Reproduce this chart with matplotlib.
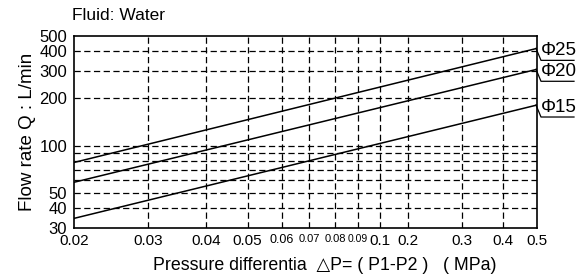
import numpy as np
import matplotlib
matplotlib.use("Agg")
import matplotlib.pyplot as plt
from matplotlib.transforms import IdentityTransform
from matplotlib.lines import Line2D

plt.rcParams["font.family"] = ["Liberation Sans", "DejaVu Sans", "Noto Sans CJK SC"]
plt.rcParams["lines.scale_dashes"] = False

# data
pressure = [0.02, 0.5]
flow_d25 = [78, 417]
flow_d20 = [58.3, 306.6]
flow_d15 = [34.3, 181.4]
series_names = ["Φ25", "Φ20", "Φ15"]

x_ticks = [0.02, 0.03, 0.04, 0.05, 0.06, 0.07, 0.08, 0.09, 0.1, 0.2, 0.3, 0.4, 0.5]
x_ticklabels = ["0.02", "0.03", "0.04", "0.05", "0.06", "0.07", "0.08", "0.09",
                "0.1", "0.2", "0.3", "0.4", "0.5"]
y_ticks = [30, 40, 50, 100, 200, 300, 400, 500]
y_grid = [40, 50, 60, 70, 80, 90, 100, 200, 300, 400]
x_grid = x_ticks[1:-1]

# the printed x axis is not a clean log scale, so map ticks to where they sit
x_tick_px = [74, 148, 206, 247.5, 282, 309, 335, 357.5, 380, 408.3, 462.3, 503.3, 537]
x_label_sizes = [11, 11, 11, 11, 9, 8, 8, 7.5, 11, 11, 11, 11, 11]
log_ticks = np.log10(x_ticks)


def fwd(x):
    x = np.clip(np.asarray(x, dtype=float), 1e-6, None)
    return np.interp(np.log10(x), log_ticks, x_tick_px)


def inv(p):
    return 10 ** np.interp(np.asarray(p, dtype=float), x_tick_px, log_ticks)


fig = plt.figure(figsize=(5.81, 2.80), dpi=100)
ax = fig.add_axes([74 / 581, 1 - 227.5 / 280, (537 - 74) / 581, (227.5 - 36) / 280])

ax.set_xscale("function", functions=(fwd, inv))
ax.set_yscale("log")
ax.set_xlim(0.02, 0.5)
ax.set_ylim(30, 500)

grid_style = dict(color="black", lw=0.9, dashes=(4.5, 2.5), zorder=1)
for v in x_grid:
    ax.axvline(v, **grid_style)
for v in y_grid:
    ax.axhline(v, **grid_style)

for ys in [flow_d25, flow_d20, flow_d15]:
    ax.plot(pressure, ys, color="black", lw=1.1, zorder=3)

ax.set_xticks(x_ticks)
ax.set_xticklabels(x_ticklabels)
for lab, fs in zip(ax.get_xticklabels(), x_label_sizes):
    lab.set_fontsize(fs)
ax.set_yticks(y_ticks)
ax.set_yticklabels([str(v) for v in y_ticks], fontsize=12)
ax.minorticks_off()
ax.yaxis.set_minor_locator(plt.NullLocator())
ax.tick_params(axis="both", length=0)
ax.tick_params(axis="x", pad=5)
ax.tick_params(axis="y", pad=5)

for s in ax.spines.values():
    s.set_linewidth(1.2)

ax.set_ylabel("Flow rate Q : L/min", fontsize=13.5, labelpad=2)
fig.text(153 / 581, 1 - 266 / 280, "Pressure differentia  △P= ( P1-P2 )   ( MPa)",
         fontsize=12.8, ha="left", va="center")
fig.text(72 / 581, 1 - 15 / 280, "Fluid: Water", fontsize=12.5, va="center", ha="left")

# leader lines and size labels at the right end of each line
for name, ys in zip(series_names, [flow_d25, flow_d20, flow_d15]):
    px, py = ax.transData.transform((pressure[-1], ys[-1]))
    line = Line2D([px - 1, px + 4, px + 37], [py, py - 12, py - 12],
                  color="black", lw=0.9, transform=IdentityTransform())
    fig.add_artist(line)
    fig.text((px + 4) / 581, (py - 11) / 280, name, fontsize=13.5,
             ha="left", va="bottom")

fig.savefig("out.png", dpi=100)
